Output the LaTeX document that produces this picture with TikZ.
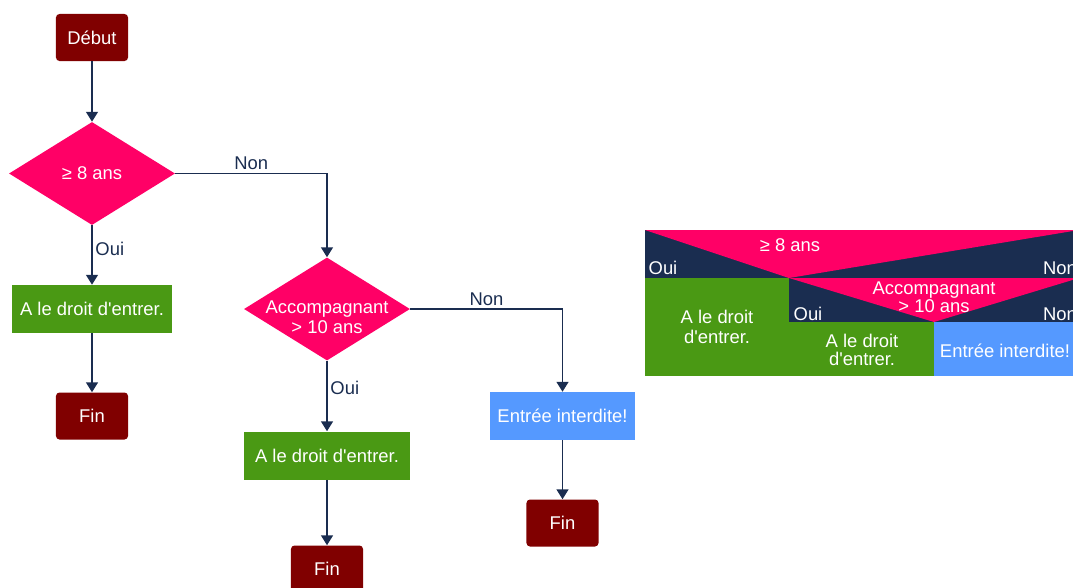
\documentclass[tikz,border=0pt]{standalone}
\usepackage{fontspec}
\newfontfamily\flowfont{Liberation Sans}
\usetikzlibrary{arrows.meta,shapes.geometric}
\definecolor{termRed}{RGB}{128,0,0}
\definecolor{condPink}{RGB}{255,0,102}
\definecolor{okGreen}{RGB}{74,153,20}
\definecolor{noBlue}{RGB}{85,153,255}
\definecolor{inkNavy}{RGB}{26,45,80}

\begin{document}
\begin{tikzpicture}[x=0.025cm,y=-0.025cm,
  every node/.style={font=\flowfont\fontsize{13.1}{15}\selectfont},
  term/.style={fill=termRed,text=white,rounded corners=2.5pt,
    minimum width=1.8cm,minimum height=1.175cm},
  cond/.style={diamond,fill=condPink,text=white,inner sep=0pt,align=center,
    minimum width=4.15cm,minimum height=2.575cm},
  condtxt/.style={text=white,align=center,inner sep=0pt},
  okbox/.style={fill=okGreen,text=white,minimum height=1.2cm},
  nobox/.style={fill=noBlue,text=white,minimum height=1.2cm},
  flow/.style={draw=inkNavy,line width=0.9pt,-{Triangle[length=7pt,width=8.5pt]}},
  lbl/.style={text=inkNavy,inner sep=2pt},
  nslbl/.style={text=white,inner sep=0pt,align=center}]
  \useasboundingbox (0,0) rectangle (1073,587);
  \clip (0,0) rectangle (1073,587);
  % flowchart
  \node[term] (debut) at (92,37.5) {Début};
  \node[cond] (age) at (92,173.5) {≥ 8 ans};
  \node[okbox,minimum width=3.975cm] (entre1) at (92,309) {A le droit d'entrer.};
  \node[term] (fin1) at (92,416) {Fin};
  \node[cond,label={[condtxt,yshift=-0.2cm]center:Accompagnant\\[-1pt]> 10 ans}]
    (acc) at (327,309) {};
  \node[okbox,minimum width=4.125cm] (entre2) at (327,455.5) {A le droit d'entrer.};
  \node[term] (fin2) at (327,569) {Fin};
  \node[nobox,minimum width=3.625cm] (interdit) at (562.5,416) {Entrée interdite!};
  \node[term] (fin3) at (562.5,523) {Fin};
  \draw[flow] (debut) -- (age);
  \draw[flow] (age) -- node[lbl,right,pos=0.4] {Oui} (entre1);
  \draw[flow] (entre1) -- (fin1);
  \draw[flow] (age.east) -| node[lbl,above,pos=0.25] {Non} (acc.north);
  \draw[flow] (acc) -- node[lbl,right,pos=0.38] {Oui} (entre2);
  \draw[flow] (entre2) -- (fin2);
  \draw[flow] (acc.east) -| node[lbl,above,pos=0.25] {Non} (interdit.north);
  \draw[flow] (interdit) -- (fin3);
  % structogram (cut at the right edge)
  \fill[inkNavy] (645,230) rectangle (1079,278);
  \fill[condPink] (645,230) -- (1079,230) -- (789,278) -- cycle;
  \fill[inkNavy] (789,278) rectangle (1079,322);
  \fill[condPink] (789,278) -- (1079,278) -- (934,322) -- cycle;
  \fill[okGreen] (645,278) rectangle (789,376);
  \fill[okGreen] (789,322) rectangle (934,376);
  \fill[noBlue] (934,322) rectangle (1079,376);
  \node[nslbl] (nsage) at (790,245) {≥ 8 ans};
  \node[nslbl] (nsoui1) at (663,268) {Oui};
  \node[nslbl] (nsnon1) at (1060,268) {Non};
  \node[nslbl] (nsacc) at (934,297) {Accompagnant\\[-2pt]> 10 ans};
  \node[nslbl] (nsoui2) at (808,314) {Oui};
  \node[nslbl] (nsnon2) at (1060,314) {Non};
  \node[nslbl] (nsentre1) at (717,327) {A le droit\\[-1pt]d'entrer.};
  \node[nslbl] (nsentre2) at (862,350) {A le droit\\[-2pt]d'entrer.};
  \node[nslbl] (nsinterdit) at (1005,351) {Entrée interdite!};
\end{tikzpicture}
\end{document}
